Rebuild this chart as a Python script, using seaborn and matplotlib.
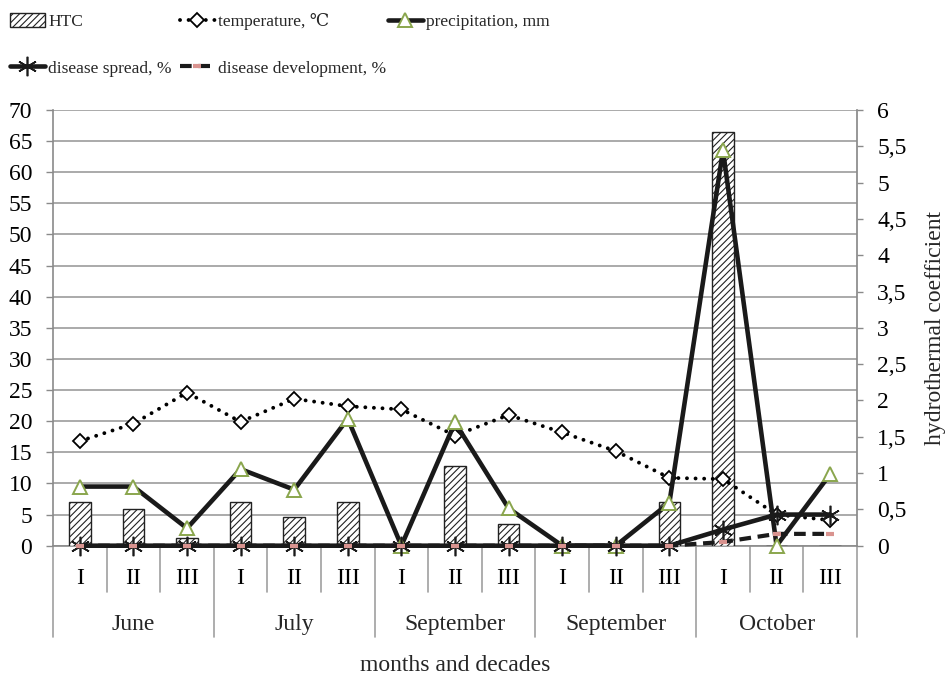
import numpy as np
import pandas as pd
import matplotlib.pyplot as plt
import seaborn as sns

# values
decades = ['I', 'II', 'III'] * 5
months = ['June', 'July', 'September', 'September', 'October']
htc = [0.6, 0.5, 0.1, 0.6, 0.4, 0.6, 0.0, 1.1, 0.3, 0.0, 0.0, 0.6, 5.7, 0.0, 0.0]
temperature = [16.8, 19.6, 24.6, 19.9, 23.6, 22.4, 21.9, 17.7, 21.0, 18.2, 15.2, 10.9, 10.7, 5.0, 4.1]
precipitation = [9.5, 9.5, 2.8, 12.3, 9.0, 20.4, 0.0, 19.8, 6.0, 0.0, 0.0, 6.9, 63.5, 0.0, 11.5]
spread = [0, 0, 0, 0, 0, 0, 0, 0, 0, 0, 0, 0, 2.6, 5.0, 5.0]
development = [0, 0, 0, 0, 0, 0, 0, 0, 0, 0, 0, 0, 0.6, 1.9, 1.9]

df = pd.DataFrame({
    'pos': np.arange(len(decades)),
    'htc': htc,
    'temperature': temperature,
    'precipitation': precipitation,
    'spread': spread,
    'development': development,
})

sns.set_theme(style='white')
plt.rcParams['font.family'] = ['Liberation Serif', 'DejaVu Serif', 'DejaVu Sans']
plt.rcParams['hatch.color'] = '#3a3a3a'
plt.rcParams['hatch.linewidth'] = 0.8

GRAY = '#8a8a8a'
W, H = 949, 674

fig = plt.figure(figsize=(W / 100, H / 100), dpi=100)
ax = fig.add_axes([53 / W, 1 - 545.7 / H, 804 / W, 435.7 / H])
ax2 = ax.twinx()
ax3 = ax.twinx()

# HTC bars on the right axis
sns.barplot(data=df, x='pos', y='htc', ax=ax2, orient='x', color='white',
            edgecolor='#222222', linewidth=1, width=0.4, hatch='/////',
            saturation=1, label='HTC')

# lines on the left-axis scale (separate layer above the bars)
sns.lineplot(data=df, x='pos', y='temperature', ax=ax3, color='black', lw=2.8,
             linestyle=(0, (0.01, 2.2)), dash_capstyle='round',
             marker='D', markersize=7.5, markerfacecolor='white',
             markeredgecolor='black', markeredgewidth=1.3, clip_on=False,
             label='temperature, \u2103')
sns.lineplot(data=df, x='pos', y='precipitation', ax=ax3, color='#1a1a1a', lw=3.3,
             marker='^', markersize=10.5, markerfacecolor='white',
             markeredgecolor='#8aa64d', markeredgewidth=1.4, clip_on=False,
             label='precipitation, mm')
sns.lineplot(data=df, x='pos', y='spread', ax=ax3, color='#1a1a1a', lw=3.3,
             marker=(6, 2, 0), markersize=14, markeredgecolor='#1a1a1a',
             markeredgewidth=1.2, clip_on=False, label='disease spread, %')
sns.lineplot(data=df, x='pos', y='development', ax=ax3, color='#1a1a1a', lw=3,
             linestyle=(0, (2.8, 1.6)), marker='_', markersize=6,
             markeredgecolor='#d9938f', markeredgewidth=3, clip_on=False,
             label='disease development, %')

for a in (ax, ax2, ax3):
    if a.get_legend() is not None:
        a.get_legend().remove()

# axes scales
ax.set_ylim(0, 70)
ax3.set_ylim(0, 70)
ax2.set_ylim(0, 6)
ax.set_xlim(-0.5, len(decades) - 0.5)
ax3.set_axis_off()

ax.set_yticks(np.arange(0, 71, 5))
ax.grid(axis='y', color='#9c9c9c', lw=1.2)
ax.grid(axis='x', visible=False)
ax.tick_params(axis='y', left=True, direction='out', length=5, width=1,
               color=GRAY, pad=10, labelsize=17, labelcolor='black')

rticks = np.arange(0, 6.01, 0.5)
ax2.set_yticks(rticks)
ax2.set_yticklabels([('%g' % t).replace('.', ',') for t in rticks])
ax2.tick_params(axis='y', right=True, direction='out', length=4.5, width=1,
                color=GRAY, pad=10, labelsize=17, labelcolor='black')
ax2.set_ylabel('hydrothermal coefficient', fontsize=17, rotation=90)
ax2.yaxis.set_label_coords(1.084, 0.5)
ax2.set_xlabel('')

for s in ('left', 'top', 'bottom'):
    ax2.spines[s].set_visible(False)
ax2.spines['right'].set_color(GRAY)
ax.spines['top'].set_visible(False)
ax.spines['right'].set_visible(False)
for s in ('left', 'bottom'):
    ax.spines[s].set_color(GRAY)
    ax.spines[s].set_linewidth(1.2)
ax.set_ylabel('')

# hierarchical category axis
ax.set_xticks(df['pos'])
ax.set_xticklabels(decades)
ax.tick_params(axis='x', bottom=False, length=0, pad=16, labelsize=17,
               labelcolor='black')
tr = ax.get_xaxis_transform()
for b in np.arange(-0.5, len(decades)):
    depth = 0.209 if (b + 0.5) % 3 == 0 else 0.106
    ax.plot([b, b], [0, -depth], transform=tr, color='#a0a0a0', lw=1.2,
            clip_on=False)
for i, m in enumerate(months):
    ax.text(3 * i + 1, -0.181, m, transform=tr, ha='center', va='center',
            fontsize=17)
ax.set_xlabel('months and decades', fontsize=17)
ax.xaxis.set_label_coords(0.5, -0.274)
ax.xaxis.label.set_va('center')

# legend: three columns placed like the original
h2, l2 = ax2.get_legend_handles_labels()
h3, l3 = ax3.get_legend_handles_labels()
hd = dict(zip(l2 + l3, h2 + h3))
cols = [(10, ['HTC', 'disease spread, %']),
        (180, ['temperature, \u2103', 'disease development, %']),
        (388, ['precipitation, mm'])]
for x0, names in cols:
    fig.legend([hd[n] for n in names], names, loc='upper left',
               bbox_to_anchor=(x0 / W, 1 - 13 / H), frameon=False,
               borderpad=0, borderaxespad=0, fontsize=12.5, handlelength=2.0,
               handleheight=0.9, handletextpad=0.2, labelspacing=1.7)

fig.savefig('out.png', dpi=100)
